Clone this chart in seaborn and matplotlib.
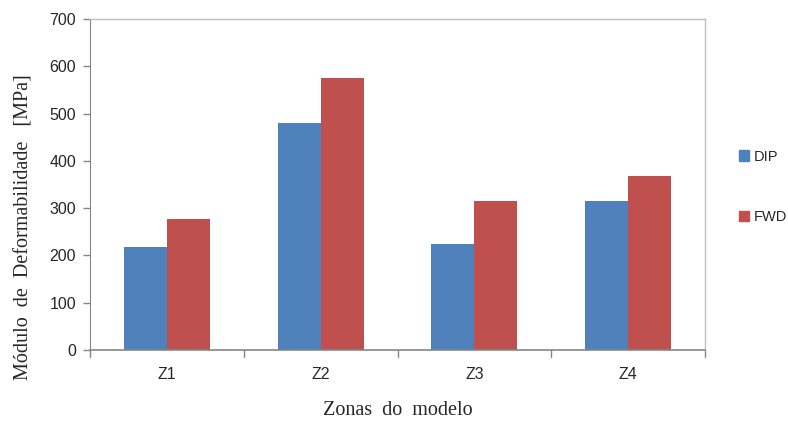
import pandas as pd
import numpy as np
import seaborn as sns
import matplotlib.pyplot as plt
from matplotlib.patches import Patch

zonas = ['Z1', 'Z2', 'Z3', 'Z4']
dip = [218, 480, 225, 316]
fwd = [277, 576, 316, 369]
series = ['DIP', 'FWD']
cores = ['#4F81BD', '#C0504D']

df = pd.DataFrame({'zona': zonas * 2,
                   'valor': dip + fwd,
                   'serie': ['DIP'] * 4 + ['FWD'] * 4})

sns.set_style('white')
plt.rcParams['font.family'] = ['Liberation Sans', 'DejaVu Sans']

fig = plt.figure(figsize=(7.88, 4.26), dpi=100)
ax = fig.add_axes([90 / 788, 1 - 350 / 426, 615 / 788, 331 / 426])

sns.barplot(data=df, x='zona', y='valor', hue='serie', palette=cores,
            width=0.56, gap=0, saturation=1, linewidth=0, ax=ax, legend=False)

ax.set_ylim(0, 700)
ax.set_xlim(-0.5, 3.5)
ax.set_yticks(np.arange(0, 701, 100))
ax.tick_params(axis='y', length=5, width=1, color='#868686', labelsize=11.5, pad=5, left=True)
ax.tick_params(axis='x', length=0, labelsize=11.5, pad=12)
# separadores de categoria abaixo do eixo
for xs in [-0.5, 0.5, 1.5, 2.5, 3.5]:
    ax.plot([xs, xs], [0, -0.02], transform=ax.get_xaxis_transform(),
            color='#868686', lw=1, clip_on=False)

for s in ['top', 'right']:
    ax.spines[s].set_color('#BFBFBF')
    ax.spines[s].set_linewidth(1)
ax.spines['left'].set_color('#868686')
ax.spines['bottom'].set_color('#868686')
ax.spines['bottom'].set_linewidth(1.2)

ax.set_xlabel('Zonas  do  modelo', family='Liberation Serif', fontsize=14.5, labelpad=14)
ax.set_ylabel('Módulo  de  Deformabilidade   [MPa]', family='Liberation Serif',
              fontsize=14.5)
ax.yaxis.set_label_coords(-0.092, 0.37)

handles = [Patch(color=c, label=s) for c, s in zip(cores, series)]
fig.legend(handles=handles, loc='center left', bbox_to_anchor=(729 / 788, 1 - 187 / 426),
           frameon=False, fontsize=10.5, handlelength=0.7, handleheight=0.7,
           handletextpad=0.3, labelspacing=3.2, borderpad=0.2)

fig.savefig('out.png', dpi=100)
